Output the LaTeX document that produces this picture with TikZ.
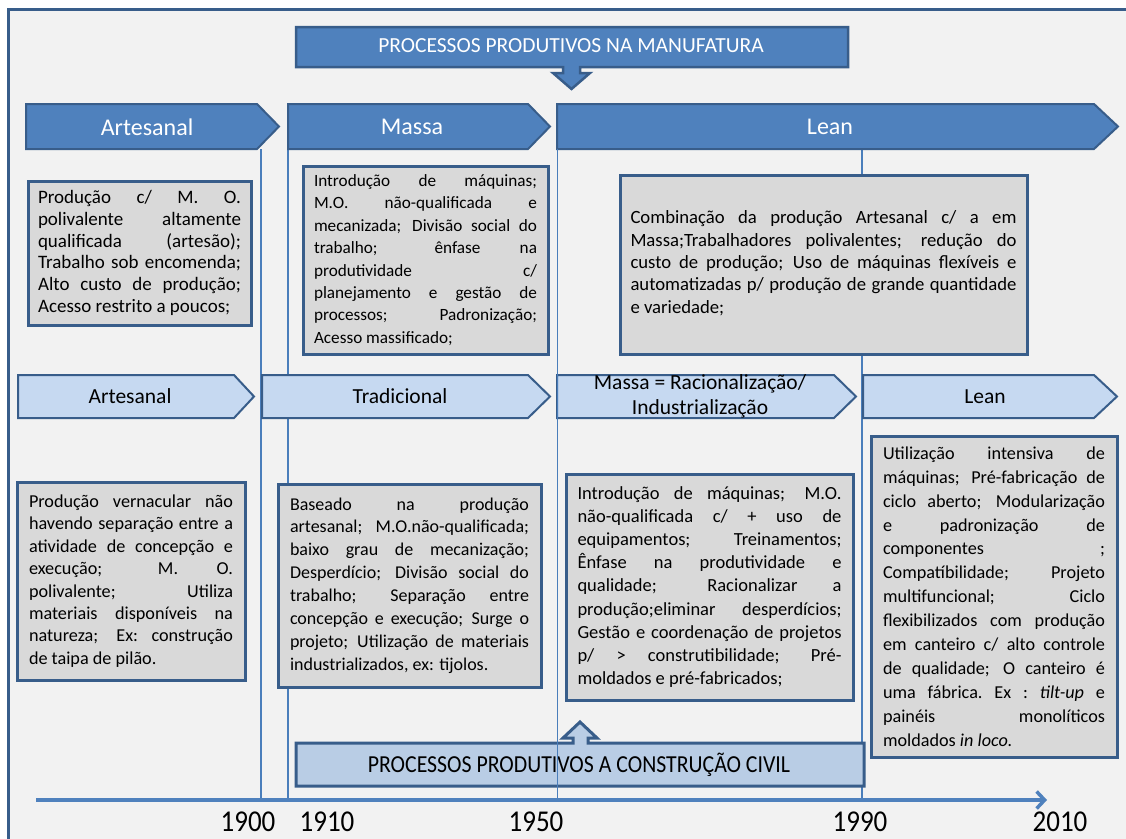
\documentclass[tikz,border=0pt]{standalone}
\usepackage{fontspec}
\setmainfont{Carlito}
\usetikzlibrary{arrows.meta}

\definecolor{darkfill}{HTML}{4F81BD}
\definecolor{edgeblue}{HTML}{385D8A}
\definecolor{lightfill}{HTML}{C6D9F1}
\definecolor{hdrlight}{HTML}{B9CDE5}
\definecolor{boxgray}{HTML}{D9D9D9}
\definecolor{canvas}{HTML}{F2F2F2}
\definecolor{tickblue}{HTML}{4A7EBB}

% justified line: interword spaces share the free room equally
\newcommand\jl[1]{\hbox to\hsize{\spaceskip=\fontdimen2\font plus 1fil\xspaceskip=\spaceskip #1}}
% last (ragged) line of a paragraph
\newcommand\lastl[1]{\hbox{#1}}
% block of lines: width, baseline skip, lines
\newcommand\tblock[3]{\vbox{\hsize=#1pt\baselineskip=#2pt\lineskiplimit=-20pt\lineskip=0pt #3}}
% arrow-shaped band: style, x left, x notch, x tip, y top, y bottom
\newcommand\chevron[6]{\draw[#1] (#2,#5) -- (#3,#5) -- (#4,{(#5+#6)/2}) -- (#3,#6) -- (#2,#6) -- cycle;}
% font size shorthand
\newcommand\fs[1]{\fontsize{#1}{22}\selectfont}

\begin{document}
\begin{tikzpicture}[x=1pt,y=-1pt,
  darkchev/.style={fill=darkfill,draw=edgeblue,line width=2pt,line join=miter},
  lightchev/.style={fill=lightfill,draw=edgeblue,line width=2pt,line join=miter},
  graybox/.style={rectangle,fill=boxgray,draw=edgeblue,line width=3pt,inner sep=0pt},
  toplabel/.style={text=white,font=\fontsize{24}{28}\selectfont,inner sep=0pt},
  midlabel/.style={text=black,font=\fontsize{21.5}{25}\selectfont,inner sep=0pt},
  yearlabel/.style={font=\fontsize{27}{30}\selectfont,inner sep=0pt},
  vline/.style={draw=tickblue},
  axis/.style={draw=darkfill,line width=3.5pt,-{Straight Barb[length=8pt,width=17pt]}}]

\useasboundingbox (0,0) rectangle (1126,838);
\fill[white] (0,0) rectangle (1126,838);
\draw[fill=canvas,draw=edgeblue,line width=3pt] (8.5,9) rectangle (1145,860);

% time marks on the axis
\coordinate (t1900) at (261,149);
\coordinate (t1910) at (288,149);
\coordinate (t1950) at (557,149);
\coordinate (t1990) at (862,149);
\coordinate (a1900) at (261,800);
\coordinate (a1910) at (288,800);
\coordinate (a1950) at (557,800);
\coordinate (a1990) at (862,800);
\draw[vline,line width=1.2pt] (t1900) -- (a1900);
\draw[vline,line width=2pt] (t1910) -- (a1910);
\draw[vline,line width=1.6pt] (t1990) -- (a1990);

% manufacturing header with its arrow
\draw[darkchev,line width=2.5pt] (296,27) -- (848,27) -- (848,67) -- (580,67) -- (580,73) -- (590,73)
  -- (571.5,89) -- (553,73) -- (563,73) -- (563,67) -- (296,67) -- cycle;
\node[text=white,font=\fontsize{21.5}{24}\selectfont,inner sep=0pt] (manuf) at (571,46) {PROCESSOS PRODUTIVOS NA MANUFATURA};

% manufacturing eras
\chevron{darkchev}{26}{257}{279}{104}{149}
\chevron{darkchev}{288}{528}{550}{104}{149}
\chevron{darkchev}{557}{1094}{1118}{104}{149}
\node[toplabel] (mArt) at (147,127) {Artesanal};
\node[toplabel] (mMas) at (412,127) {Massa};
\node[toplabel] (mLean) at (830,127) {Lean};

% manufacturing descriptions
\node[graybox,font=\fs{19},minimum width=223pt,minimum height=144pt] (b1) at (139.5,253)
 {\tblock{203}{21.8}{%
  \jl{Produção c/ M. O.}
  \jl{polivalente altamente}
  \jl{qualificada (artesão);}
  \jl{Trabalho sob encomenda;}
  \jl{Alto custo de produção;}
  \lastl{Acesso restrito a poucos;}}};

\node[graybox,font=\fs{17.2},minimum width=245pt,minimum height=188pt] (b2) at (425.5,260)
 {\tblock{223}{22.4}{%
  \jl{Introdução de máquinas;}
  \jl{M.O. não-qualificada e}
  \jl{mecanizada; Divisão social do}
  \jl{trabalho; ênfase na}
  \jl{produtividade c/}
  \jl{planejamento e gestão de}
  \jl{processos; Padronização;}
  \lastl{Acesso massificado;}}};

\node[graybox,font=\fs{18.7},minimum width=407pt,minimum height=179pt] (b3) at (823.5,264.5)
 {\raisebox{5pt}{\tblock{386}{22.3}{%
  \jl{Combinação da produção Artesanal c/ a em}
  \jl{Massa;Trabalhadores polivalentes; redução do}
  \jl{custo de produção; Uso de máquinas flexíveis e}
  \jl{automatizadas p/ produção de grande quantidade}
  \lastl{e variedade;}}}};

% building eras
\chevron{lightchev}{18}{234}{254}{375}{418}
\chevron{lightchev}{262}{528}{550}{375}{418}
\chevron{lightchev}{557}{834}{856}{375}{418}
\chevron{lightchev}{863}{1094}{1117}{375}{418}
\node[midlabel] (cArt) at (130,396) {Artesanal};
\node[midlabel] (cTrad) at (400,396) {Tradicional};
\node[midlabel,align=center] (cMas) at (700,396) {Massa = Racionalização/\\Industrialização};
\node[midlabel] (cLean) at (985,397) {Lean};

% building descriptions
\node[graybox,font=\fs{18.2},minimum width=228pt,minimum height=198pt] (b4) at (131,581)
 {\tblock{204}{22.4}{%
  \jl{Produção vernacular não}
  \jl{havendo separação entre a}
  \jl{atividade de concepção e}
  \jl{execução; M. O.}
  \jl{polivalente; Utiliza}
  \jl{materiais disponíveis na}
  \jl{natureza; Ex: construção}
  \lastl{de taipa de pilão.}}};

\node[graybox,font=\fs{18},minimum width=263pt,minimum height=203pt] (b5) at (409.5,585.5)
 {\tblock{239}{22.9}{%
  \jl{Baseado na produção}
  \jl{artesanal; M.O.não-qualificada;}
  \jl{baixo grau de mecanização;}
  \jl{Desperdício; Divisão social do}
  \jl{trabalho; Separação entre}
  \jl{concepção e execução; Surge o}
  \jl{projeto; Utilização de materiais}
  \lastl{industrializados, ex: tijolos.}}};

\node[graybox,font=\fs{18.5},minimum width=287pt,minimum height=226pt] (b6) at (709.5,587)
 {\tblock{264}{23.1}{%
  \jl{Introdução de máquinas; M.O.}
  \jl{não-qualificada c/ + uso de}
  \jl{equipamentos; Treinamentos;}
  \jl{Ênfase na produtividade e}
  \jl{qualidade; Racionalizar a}
  \jl{produção;eliminar desperdícios;}
  \jl{Gestão e coordenação de projetos}
  \jl{p/ > construtibilidade; Pré-}
  \lastl{moldados e pré-fabricados;}}};

\node[graybox,font=\fs{18.2},minimum width=246pt,minimum height=321pt] (b7) at (994,596.5)
 {\tblock{222}{23.9}{%
  \jl{Utilização intensiva de}
  \jl{máquinas; Pré-fabricação de}
  \jl{ciclo aberto; Modularização}
  \jl{e padronização de}
  \jl{componentes ;}
  \jl{Compatíbilidade; Projeto}
  \jl{multifuncional; Ciclo}
  \jl{flexibilizados com produção}
  \jl{em canteiro c/ alto controle}
  \jl{de qualidade; O canteiro é}
  \jl{uma fábrica. Ex : \textit{tilt-up} e}
  \jl{painéis monolíticos}
  \lastl{moldados \textit{in loco.}}}};

% building header with its arrow
\draw[fill=hdrlight,draw=edgeblue,line width=3pt,line join=miter] (296,743) -- (573,743) -- (573,738) -- (563,738)
  -- (580,722) -- (597,738) -- (588,738) -- (588,743) -- (864,743) -- (864,786) -- (296,786) -- cycle;
\node[font=\fontsize{21.8}{25}\selectfont,inner sep=0pt] (constr) at (579,765)
 {\scalebox{1}[1.12]{PROCESSOS PRODUTIVOS A CONSTRUÇÃO CIVIL}};

\draw[vline,line width=1pt] (t1950) -- (a1950);

% time axis
\coordinate (axstart) at (36,800);
\coordinate (axend) at (1047,800);
\draw[axis] (axstart) -- (axend);
\node[yearlabel] (y1900) at (248,822) {\scalebox{1}[1.12]{1900}};
\node[yearlabel] (y1910) at (327,822) {\scalebox{1}[1.12]{1910}};
\node[yearlabel] (y1950) at (536,822) {\scalebox{1}[1.12]{1950}};
\node[yearlabel] (y1990) at (860,822) {\scalebox{1}[1.12]{1990}};
\node[yearlabel] (y2010) at (1060,822) {\scalebox{1}[1.12]{2010}};
\end{tikzpicture}
\end{document}
